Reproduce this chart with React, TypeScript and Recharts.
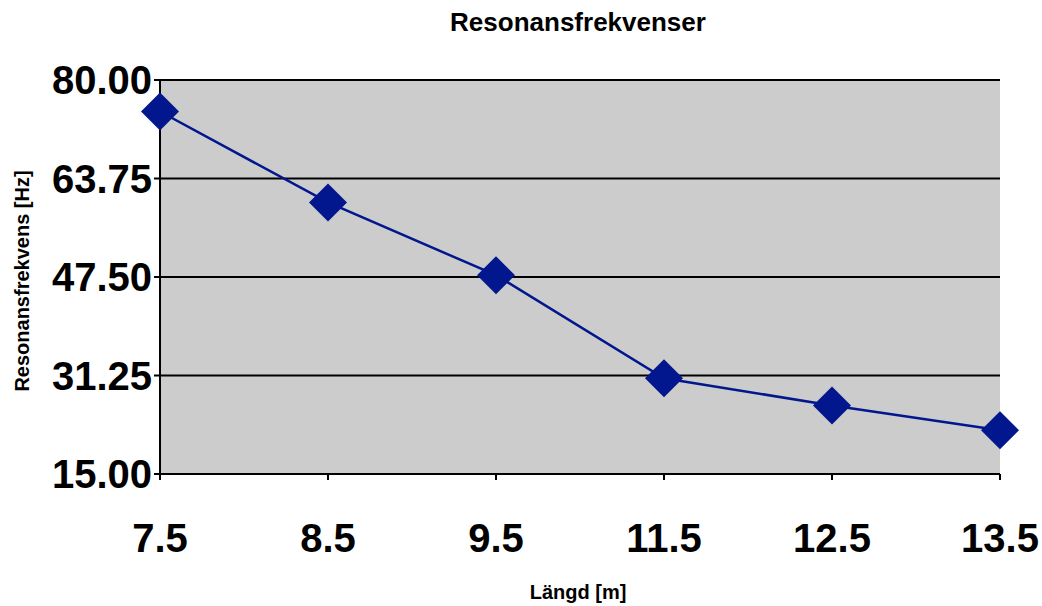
import { CartesianGrid, Line, LineChart, XAxis, YAxis } from "recharts";

const lengths = ["7.5", "8.5", "9.5", "11.5", "12.5", "13.5"];
const frequencies = [74.8, 59.8, 47.8, 30.8, 26.3, 22.2];
const yTicks = [15, 31.25, 47.5, 63.75, 80];

const data = lengths.map((name, i) => ({ name, value: frequencies[i] }));

const FONT = '"Liberation Sans", Arial, sans-serif';
const BLUE = "#02168E";

function Diamond(props: any) {
  const { cx, cy } = props;
  if (cx == null || cy == null) return null;
  const r = 19;
  return (
    <polygon
      points={`${cx},${cy - r} ${cx + r},${cy} ${cx},${cy + r} ${cx - r},${cy}`}
      fill={BLUE}
      stroke="none"
    />
  );
}

export default function App() {
  return (
    <div style={{ position: "absolute", left: 0, top: 0, width: 1042, height: 606, fontFamily: FONT, background: "#fff" }}>
      <div
        style={{
          position: "absolute",
          left: 0,
          width: 1156,
          top: 7,
          textAlign: "center",
          fontSize: 26,
          fontWeight: "bold",
          lineHeight: "30px",
        }}
      >
        Resonansfrekvenser
      </div>
      <div
        style={{
          position: "absolute",
          left: 22 - 150,
          top: 281 - 12,
          width: 300,
          height: 24,
          lineHeight: "24px",
          textAlign: "center",
          fontSize: 20,
          fontWeight: "bold",
          transform: "rotate(-90deg)",
        }}
      >
        Resonansfrekvens [Hz]
      </div>
      <div
        style={{
          position: "absolute",
          left: 478,
          width: 200,
          top: 580,
          textAlign: "center",
          fontSize: 20,
          fontWeight: "bold",
          lineHeight: "24px",
        }}
      >
        Längd [m]
      </div>
      <LineChart width={1042} height={606} data={data} margin={{ top: 80, right: 42, left: 0, bottom: 0 }}>
        <CartesianGrid vertical={false} stroke="#000" strokeWidth={2} fill="#CCCCCC" fillOpacity={1} />
        <XAxis
          dataKey="name"
          height={132}
          stroke="#000"
          strokeWidth={2}
          tickSize={6}
          tickMargin={44}
          tick={{ fontSize: 40, fontWeight: "bold", fill: "#000", fontFamily: FONT }}
          interval={0}
        />
        <YAxis
          width={160}
          domain={[15, 80]}
          ticks={yTicks}
          stroke="#000"
          strokeWidth={2}
          tickSize={6}
          tickMargin={2}
          tickFormatter={(v) => Number(v).toFixed(2)}
          tick={{ fontSize: 40, fontWeight: "bold", fill: "#000", fontFamily: FONT }}
          interval={0}
        />
        <YAxis yAxisId="r" orientation="right" width={0} domain={[0, 1]} tick={false} stroke="#000" strokeWidth={2} />
        <Line
          type="linear"
          dataKey="value"
          stroke={BLUE}
          strokeWidth={2.5}
          dot={<Diamond />}
          activeDot={false}
          isAnimationActive={false}
        />
      </LineChart>
    </div>
  );
}
